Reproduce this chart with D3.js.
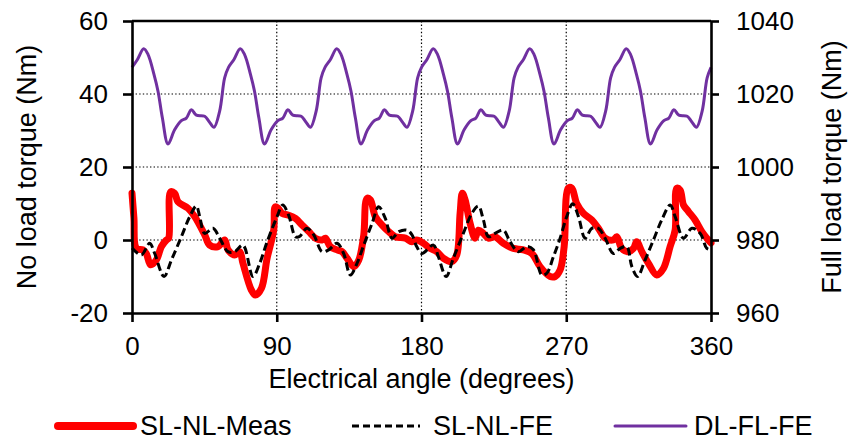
<!DOCTYPE html>
<html>
<head>
<meta charset="utf-8">
<script src="https://cdn.jsdelivr.net/npm/d3@7"></script>
<style>
  html, body { margin: 0; padding: 0; background: #fff; }
  svg { display: block; }
  text { font-family: "Liberation Sans", Arial, Helvetica, sans-serif; fill: #000; }
</style>
</head>
<body>
<svg id="chart" width="850" height="441"></svg>
<script>
// Torque ripple over one electrical period: measured and FE no-load torque
// (left axis) and FE full-load torque (right axis).

const xTicks = [0, 90, 180, 270, 360];
const leftTicks = [-20, 0, 20, 40, 60];
const rightTicks = [960, 980, 1000, 1020, 1040];

const seriesNames = ["SL-NL-Meas", "SL-NL-FE", "DL-FL-FE"];

// [electrical angle (deg), torque (Nm)]
const slNlMeas = [
  [0, 12.8], [1.2, 6], [2.7, -2.3], [6.8, -2.7], [8.9, -3.7], [11.6, -6.8], [15.1, -5.5],
  [18.3, -1.8], [21.4, 0], [22.8, 0.5], [24, 13.2], [26.5, 12.8], [28.6, 10.5], [34.8, 8.7],
  [39, 6.4], [45.2, 1.4], [48.3, -1.4], [53.5, -1.8], [57.6, 0], [59.7, -2.7], [63.9, -4.1],
  [67, -3.2], [69, -6.4], [74.2, -13.7], [76.7, -15.1], [80.5, -13.2], [84, -5], [88.1, 2.7],
  [89.1, 9.1], [90.8, 8.7], [93.3, 7.3], [97.4, 6.8], [101.6, 5.9], [105.7, 4.1], [109.9, 2.3],
  [114, 0.5], [118.2, 0], [120.2, 0.5], [123.3, -1.8], [127.5, -2.7], [130.6, -3.2], [133.7, -5],
  [137.9, -7.3], [141, -5.5], [144.1, 1.4], [146.1, 11.4], [148.2, 11], [151.3, 6.4], [155.5, 4.1],
  [159.6, 2.3], [163.7, 0.9], [170, 0.5], [174.1, -0.5], [177, 0], [181.2, -0.9], [185.3, -2.3],
  [189.5, -3.2], [193.6, -5], [198.8, -5.9], [201.9, -4.1], [204, 7.3], [205.4, 12.8], [207.1, 11],
  [210.2, 4.6], [213.3, 0.5], [215.4, 2.7], [218.5, 1.8], [221.6, 0.5], [225.7, 0.9], [230.9, -0.9],
  [237.1, -2.3], [243.3, -2.7], [248.6, -3.7], [253.7, -7.3], [260, -10], [263.1, -10], [266.2, -8.2],
  [268.7, -1.8], [271.3, 14.2], [273.4, 14.2], [276.5, 10], [280.7, 7.3], [285.9, 5.5], [290, 3.2],
  [294.2, 0.5], [299.3, 0], [301.4, 0.9], [304.5, -2.3], [308.6, -3.2], [311.8, -2.3], [313.8, -0.5],
  [317, -3.2], [321.1, -6.4], [326.3, -9.6], [330.4, -7.8], [334.6, -1.8], [337.7, 2.7], [338.7, 14.2],
  [340.8, 13.7], [342.9, 9.6], [346, 7.8], [350.1, 5.5], [354.3, 2.3], [357.4, 0.5], [360, -0.8]
];

const slNlFe = [
  [0, -2.2], [5.8, -4.1], [11, -0.9], [14.1, -3.7], [19.9, -10], [24.5, -5.5], [30.7, 0.9],
  [35.9, 6.4], [40, 9.3], [42.1, 6.4], [45.2, 1.8], [50.4, 3.2], [54.5, 0.5], [59.7, -3.2],
  [63.9, -3.2], [69, -1.4], [75.2, -10], [79.4, -6.4], [84, -0.5], [90.2, 6.4], [93.7, 9.6],
  [97.4, 6.8], [101.6, 0.9], [104, 0.9], [108.8, 3.2], [113, 1.4], [118.2, -3.2], [122.3, -2.7],
  [127.5, -0.9], [131.6, -3.7], [135.8, -9.6], [139.9, -6.4], [144.1, -1.4], [149.3, 4.6],
  [153.4, 9.1], [157.5, 5.9], [161.7, 0.5], [165.9, 2.3], [171, 2.7], [174.1, 1.4], [177, -1.8],
  [180.2, -3.7], [187.4, -1.4], [190.5, -4.6], [195.3, -10], [199.8, -5], [206, 1.8], [211.3, 7.3],
  [215.4, 9.3], [218.5, 5.5], [221.6, 0.9], [225.7, 1.8], [230.9, 2.7], [235.1, -0.5], [240.2, -3.2],
  [245.5, -1.8], [249.6, -2.7], [254.8, -9.6], [257.9, -9.1], [262, -4.6], [266.2, 0.5], [270.3, 6.4],
  [274, 9.9], [277.6, 6.4], [281.7, 0.5], [285.9, 3.2], [290, 3.2], [294.2, 0.5], [299.3, -3.7],
  [303.5, -2.3], [307.6, -1.8], [310.8, -7.3], [314.3, -10], [319, -5.5], [324.2, 0], [329.4, 5.5],
  [334.6, 9.6], [337.7, 6.4], [342.9, 0.5], [348.1, 3.2], [353.3, 1.8], [357.4, -2.3], [360, -2.7]
];

// full-load torque, right axis
const dlFlFe = [
  [0, 1027.3], [3.3, 1029.4], [7.3, 1032.4], [10, 1030.8], [13.7, 1025.3], [16.2, 1020.7], [18.9, 1013.4],
  [22.4, 1006.3], [26.5, 1010.2], [30.7, 1012.7], [33.8, 1013.4], [36.9, 1015.7], [40, 1014.2],
  [45.2, 1013.9], [48, 1012.4], [51, 1010.9], [54.5, 1015.3], [57.6, 1024.4],
  [60, 1027.3], [63.3, 1029.4], [67.3, 1032.4], [70, 1030.8], [73.7, 1025.3], [76.2, 1020.7], [78.9, 1013.4],
  [82.4, 1006.3], [86.5, 1010.2], [90.7, 1012.7], [93.8, 1013.4], [96.9, 1015.7], [100, 1014.2],
  [105.2, 1013.9], [108, 1012.4], [111, 1010.9], [114.5, 1015.3], [117.6, 1024.4],
  [120, 1027.3], [123.3, 1029.4], [127.3, 1032.4], [130, 1030.8], [133.7, 1025.3], [136.2, 1020.7], [138.9, 1013.4],
  [142.4, 1006.3], [146.5, 1010.2], [150.7, 1012.7], [153.8, 1013.4], [156.9, 1015.7], [160, 1014.2],
  [165.2, 1013.9], [168, 1012.4], [171, 1010.9], [174.5, 1015.3], [177.6, 1024.4],
  [180, 1027.3], [183.3, 1029.4], [187.3, 1032.4], [190, 1030.8], [193.7, 1025.3], [196.2, 1020.7], [198.9, 1013.4],
  [202.4, 1006.3], [206.5, 1010.2], [210.7, 1012.7], [213.8, 1013.4], [216.9, 1015.7], [220, 1014.2],
  [225.2, 1013.9], [228, 1012.4], [231, 1010.9], [234.5, 1015.3], [237.6, 1024.4],
  [240, 1027.3], [243.3, 1029.4], [247.3, 1032.4], [250, 1030.8], [253.7, 1025.3], [256.2, 1020.7], [258.9, 1013.4],
  [262.4, 1006.3], [266.5, 1010.2], [270.7, 1012.7], [273.8, 1013.4], [276.9, 1015.7], [280, 1014.2],
  [285.2, 1013.9], [288, 1012.4], [291, 1010.9], [294.5, 1015.3], [297.6, 1024.4],
  [300, 1027.3], [303.3, 1029.4], [307.3, 1032.4], [310, 1030.8], [313.7, 1025.3], [316.2, 1020.7], [318.9, 1013.4],
  [322.4, 1006.3], [326.5, 1010.2], [330.7, 1012.7], [333.8, 1013.4], [336.9, 1015.7], [340, 1014.2],
  [345.2, 1013.9], [348, 1012.4], [351, 1010.9], [354.5, 1015.3], [357.6, 1024.4], [360, 1027.3]
];

const svg = d3.select("#chart");
const plot = { left: 132, right: 711, top: 21, bottom: 313 };

const x = d3.scaleLinear().domain([0, 360]).range([plot.left, plot.right]);
const yL = d3.scaleLinear().domain([-20, 60]).range([plot.bottom, plot.top]);
const yR = d3.scaleLinear().domain([960, 1040]).range([plot.bottom, plot.top]);

// plain hyphen-minus for negative tick labels
const plainFormat = d => String(d);

// dotted grid
const grid = svg.append("g").attr("stroke", "#000").attr("stroke-width", 1.2).attr("stroke-dasharray", "1.4,2.2");
grid.selectAll("line.v").data(xTicks.slice(1, -1)).join("line")
  .attr("x1", d => x(d)).attr("x2", d => x(d)).attr("y1", plot.top).attr("y2", plot.bottom);
grid.selectAll("line.h").data(leftTicks.slice(1, -1)).join("line")
  .attr("x1", plot.left).attr("x2", plot.right).attr("y1", d => yL(d)).attr("y2", d => yL(d));

// series
const lineL = d3.line().x(d => x(d[0])).y(d => yL(d[1])).curve(d3.curveCatmullRom.alpha(0.5));
const lineR = d3.line().x(d => x(d[0])).y(d => yR(d[1])).curve(d3.curveCatmullRom.alpha(0.5));

svg.append("path").datum(slNlMeas).attr("d", lineL)
  .attr("fill", "none").attr("stroke", "#ff0000").attr("stroke-width", 7)
  .attr("stroke-linejoin", "round").attr("stroke-linecap", "round");
svg.append("path").datum(slNlFe).attr("d", lineL)
  .attr("fill", "none").attr("stroke", "#000").attr("stroke-width", 3)
  .attr("stroke-dasharray", "8,4");
svg.append("path").datum(dlFlFe).attr("d", lineR)
  .attr("fill", "none").attr("stroke", "#7030a0").attr("stroke-width", 3)
  .attr("stroke-linejoin", "round");

// axes
function styleAxis(g) {
  g.selectAll("path.domain").attr("stroke", "#000").attr("stroke-width", 2.6);
  g.selectAll(".tick line").attr("stroke", "#000").attr("stroke-width", 2.6);
  g.selectAll(".tick text").attr("font-size", 26).attr("font-family", null);
}

svg.append("g").attr("transform", `translate(0,${plot.bottom})`)
  .call(d3.axisBottom(x).tickValues(xTicks).tickSize(9).tickSizeOuter(0).tickPadding(15).tickFormat(plainFormat))
  .call(styleAxis);
svg.append("g").attr("transform", `translate(${plot.left},0)`)
  .call(d3.axisLeft(yL).tickValues(leftTicks).tickSize(9).tickSizeOuter(0).tickPadding(15).tickFormat(plainFormat))
  .call(styleAxis);
svg.append("g").attr("transform", `translate(${plot.right},0)`)
  .call(d3.axisRight(yR).tickValues(rightTicks).tickSize(8).tickSizeOuter(0).tickPadding(17).tickFormat(plainFormat))
  .call(styleAxis);
// top frame edge
svg.append("line").attr("x1", plot.left).attr("x2", plot.right)
  .attr("y1", plot.top).attr("y2", plot.top).attr("stroke", "#000").attr("stroke-width", 2.6);

// axis titles
svg.append("text").attr("x", (plot.left + plot.right) / 2).attr("y", 388)
  .attr("text-anchor", "middle").attr("font-size", 27).text("Electrical angle (degrees)");
svg.append("text").attr("transform", `translate(36,${(plot.top + plot.bottom) / 2}) rotate(-90)`)
  .attr("text-anchor", "middle").attr("font-size", 27).text("No load torque (Nm)");
svg.append("text").attr("transform", `translate(841,${(plot.top + plot.bottom) / 2}) rotate(-90)`)
  .attr("text-anchor", "middle").attr("font-size", 27).text("Full load torque (Nm)");

// legend
const legendItems = [
  { name: seriesNames[0], x1: 58, x2: 133, tx: 140, stroke: "#ff0000", width: 8, dash: null },
  { name: seriesNames[1], x1: 352, x2: 420, tx: 433, stroke: "#000", width: 3, dash: "7,4" },
  { name: seriesNames[2], x1: 615, x2: 686, tx: 694, stroke: "#7030a0", width: 3, dash: null }
];
const legendY = 426;
const lg = svg.append("g").selectAll("g").data(legendItems).join("g");
lg.append("line").attr("x1", d => d.x1).attr("x2", d => d.x2).attr("y1", legendY).attr("y2", legendY)
  .attr("stroke", d => d.stroke).attr("stroke-width", d => d.width)
  .attr("stroke-dasharray", d => d.dash).attr("stroke-linecap", d => d.dash ? "butt" : "round");
lg.append("text").attr("x", d => d.tx).attr("y", legendY).attr("dy", "0.35em")
  .attr("font-size", 27).text(d => d.name);
</script>
</body>
</html>
